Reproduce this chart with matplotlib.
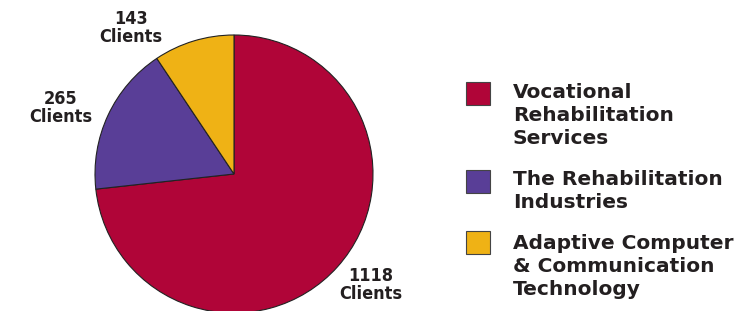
import matplotlib.pyplot as plt
from matplotlib.patches import Rectangle

# Data
categories = ['Vocational\nRehabilitation\nServices',
              'The Rehabilitation\nIndustries',
              'Adaptive Computer\n& Communication\nTechnology']
clients = [1118, 265, 143]
colors = ['#B00538', '#593E97', '#EFB215']

W, H = 739, 311
fig = plt.figure(figsize=(W / 100, H / 100), dpi=100)
ax = fig.add_axes([0, 0, 1, 1])

# Pie, clockwise from 12 o'clock
ax.pie(clients, colors=colors, startangle=90, counterclock=False,
       center=(234, H - 174), radius=139,
       wedgeprops=dict(edgecolor='#222222', linewidth=0.8))
ax.set_xlim(0, W)
ax.set_ylim(0, H)
ax.set_aspect('equal')
ax.axis('off')

# Value labels
label_font = dict(family='DejaVu Sans', fontstretch='condensed',
                  fontweight='bold', fontsize=13, color='#231F20',
                  ha='center', va='center', linespacing=1.05)
label_pos = [(371, 285), (61, 108), (131, 28)]
for n, (x, y) in zip(clients, label_pos):
    ax.text(x, H - y, f'{n}\nClients', **label_font)

# Legend
box_tops = [82, 170, 231]
text_tops = [83, 170, 234]
for name, c, top, ttop in zip(categories, colors, box_tops, text_tops):
    ax.add_patch(Rectangle((466, H - top - 23), 24, 23, facecolor=c,
                           edgecolor='#444444', linewidth=0.8))
    ax.text(513, H - ttop, name, fontsize=14.5, fontweight='bold',
            color='#231F20', ha='left', va='top', linespacing=1.27,
            family='DejaVu Sans')

fig.savefig('out.png', dpi=100)
